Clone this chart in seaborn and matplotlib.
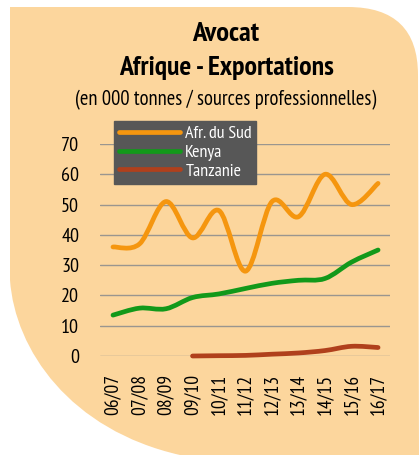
import numpy as np
import pandas as pd
import seaborn as sns
import matplotlib.pyplot as plt
from matplotlib.path import Path
from matplotlib.patches import PathPatch
from matplotlib.transforms import Affine2D

# data (000 t)
CAMPAGNES = ["06/07", "07/08", "08/09", "09/10", "10/11", "11/12",
             "12/13", "13/14", "14/15", "15/16", "16/17"]
AFR_SUD = [36, 37, 51, 39, 48, 28, 51, 46, 60, 50, 57]
KENYA = [13.5, 15.8, 15.6, 19.3, 20.5, 22.3, 24.0, 25.0, 25.6, 31.0, 35.0]
TANZANIE = [np.nan, np.nan, np.nan, 0.0, 0.1, 0.2, 0.6, 1.0, 1.8, 3.2, 2.8]

SERIES = {"Afr. du Sud": AFR_SUD, "Kenya": KENYA, "Tanzanie": TANZANIE}
COULEURS = {"Afr. du Sud": "#F5960F", "Kenya": "#12991A", "Tanzanie": "#B0401C"}

W, H = 419, 455
BG = "#FCD69D"

sns.set_style("white")
plt.rcParams["font.family"] = ["PT Sans Narrow", "DejaVu Sans"]
plt.rcParams["text.color"] = "black"
plt.rcParams["xtick.color"] = "black"
plt.rcParams["ytick.color"] = "black"

fig = plt.figure(figsize=(W / 100, H / 100), dpi=100)
fig.patch.set_facecolor("white")

# ---- background shape (pixel coords, y down) ----
px = Affine2D().scale(1 / W, -1 / H).translate(0, 1) + fig.transFigure
verts = [(10, 7), (348, 7), (418, 7), (418, 75), (419, 455), (180, 455),
         (70, 430), (15, 350), (10, 280), (10, 7)]
codes = [Path.MOVETO, Path.LINETO, Path.CURVE3, Path.CURVE3, Path.LINETO,
         Path.LINETO, Path.CURVE4, Path.CURVE4, Path.CURVE4, Path.CLOSEPOLY]
fig.patches.append(PathPatch(Path(verts, codes), facecolor=BG, edgecolor="none",
                             transform=px, zorder=-5))

# ---- axes ----
ax = fig.add_axes([100 / W, 1 - 356 / H, 290 / W, 212 / H])
ax.set_facecolor("none")
ax.set_zorder(2)

df = pd.DataFrame({"idx": list(range(len(CAMPAGNES))) * 3,
                   "serie": np.repeat(list(SERIES.keys()), len(CAMPAGNES)),
                   "valeur": AFR_SUD + KENYA + TANZANIE})

for nom in SERIES:
    sns.lineplot(data=df[df["serie"] == nom], x="idx", y="valeur", ax=ax,
                 color=COULEURS[nom], linewidth=3.4, label=nom)

ax.set_xlim(-0.49, 10.45)
ax.set_ylim(0, 70)
ax.set_yticks(range(0, 71, 10))
ax.set_xticks(range(len(CAMPAGNES)))
ax.set_xticklabels(CAMPAGNES, rotation=90, fontsize=14)
ax.tick_params(axis="y", labelsize=14.5, pad=15, length=0)
ax.tick_params(axis="x", pad=13, length=0)
ax.set_xlabel("")
ax.set_ylabel("")
ax.yaxis.grid(True, color="#9a968f", linewidth=1)
ax.xaxis.grid(False)
sns.despine(ax=ax, left=True, bottom=True)

leg = ax.legend(loc="upper left", bbox_to_anchor=(114 / W, 1 - 121 / H),
                bbox_transform=fig.transFigure, fontsize=13, frameon=True,
                fancybox=False, facecolor="#575757", edgecolor="#575757",
                framealpha=1, labelcolor="white", handlelength=3.4,
                handletextpad=0.3, labelspacing=0.12, borderpad=0.25,
                borderaxespad=0)
leg.set_zorder(5)

# smooth the lines (Catmull-Rom as bezier) like the original
for line in list(ax.lines):
    xy = line.get_xydata()
    xy = xy[~np.isnan(xy).any(axis=1)]
    if len(xy) < 2:
        continue
    pts = np.vstack([xy[0], xy, xy[-1]])
    v = [tuple(xy[0])]
    c = [Path.MOVETO]
    for i in range(1, len(pts) - 2):
        p0, p1, p2, p3 = pts[i - 1], pts[i], pts[i + 1], pts[i + 2]
        v += [tuple(p1 + (p2 - p0) / 6), tuple(p2 - (p3 - p1) / 6), tuple(p2)]
        c += [Path.CURVE4] * 3
    ax.add_patch(PathPatch(Path(v, c), facecolor="none", edgecolor=line.get_color(),
                           linewidth=line.get_linewidth(), capstyle="round",
                           joinstyle="round", clip_on=False, zorder=3))
    line.set_visible(False)

# ---- titles ----
fig.text(226 / W, 1 - 34 / H, "Avocat", ha="center", va="center",
         fontsize=20.5, fontweight="bold")
fig.text(226 / W, 1 - 68 / H, "Afrique - Exportations", ha="center", va="center",
         fontsize=20, fontweight="bold")
fig.text(226 / W, 1 - 100 / H, "(en 000 tonnes / sources professionnelles)",
         ha="center", va="center", fontsize=14.8)

fig.savefig("out.png", dpi=100, facecolor="white")
